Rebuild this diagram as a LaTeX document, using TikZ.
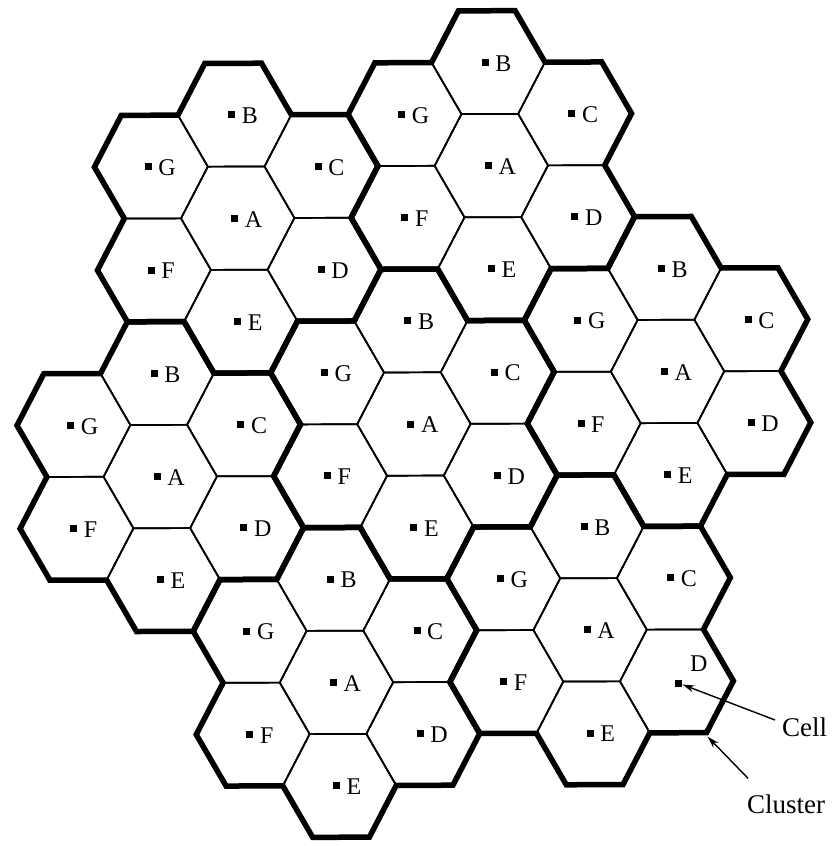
\documentclass[tikz,border=0pt]{standalone}
\usepackage{fontspec}
\setmainfont{Liberation Serif}
\usetikzlibrary{arrows.meta}
\tikzset{
  cellline/.style={line width=1.7pt, line join=miter},
  clusterline/.style={line width=5.5pt, line join=miter},
  cellmark/.style={fill=black, draw=none, inner sep=0pt, minimum size=7pt, rectangle},
  celllabel/.style={font=\fontsize{24}{28}\selectfont, inner sep=0pt, anchor=west},
  note/.style={font=\fontsize{27}{30}\selectfont, inner sep=0pt},
  pointer/.style={line width=1.4pt, -{Stealth[length=12pt,width=7pt]}}
}
\newcommand\clusteroutline[1]{%
  \draw[clusterline] (#1) ++(-1,1.7321)
    -- ++(60:1) -- ++(0:1) -- ++(-60:1)
    -- ++(0:1) -- ++(-60:1) -- ++(-120:1)
    -- ++(-60:1) -- ++(-120:1) -- ++(180:1)
    -- ++(-120:1) -- ++(180:1) -- ++(120:1)
    -- ++(180:1) -- ++(120:1) -- ++(60:1)
    -- ++(120:1) -- ++(60:1) -- cycle;}
\def\skipcell{7D}
\begin{document}
\begin{tikzpicture}[x=1pt,y=1pt]
\useasboundingbox (0,0) rectangle (835,-846);
\fill[white] (0,0) rectangle (835,-846);
\begin{scope}[shift={(413.9pt,-424pt)}, x={(56.7pt,0.21pt)}, y={(-1.76pt,59.6pt)}]
  \foreach \k/\cx/\cy in {1/-3/3.4641, 2/1.5/4.3301, 3/4.5/0.8660, 4/0/0, 5/-4.5/-0.8660, 6/-1.5/-4.3301, 7/3/-3.4641} {
    \coordinate (k\k) at (\cx,\cy);
    \foreach \l/\dx/\dy in {A/0/0, B/0/1.7321, C/1.5/0.8660, D/1.5/-0.8660, E/0/-1.7321, F/-1.5/-0.8660, G/-1.5/0.8660} {
      \coordinate (k\k\l) at ({\cx+\dx},{\cy+\dy});
      \draw[cellline] (k\k\l) ++(0:1) -- ++(120:1) -- ++(180:1) -- ++(240:1) -- ++(300:1) -- ++(0:1) -- cycle;
      \edef\thiscell{\k\l}
      \ifx\thiscell\skipcell\else
        \node[cellmark] (m\k\l) at ([xshift=-3pt]k\k\l) {};
        \node[celllabel] (t\k\l) at ([xshift=7pt,yshift=-1pt]k\k\l) {\l};
      \fi
    }
  }
  \foreach \k in {1,...,7} {\clusteroutline{k\k}}
  \coordinate (clvertex) at (5,-5.1962);
\end{scope}
\node[cellmark] (m7D) at ([xshift=2pt,yshift=-2pt]k7D) {};
\node[note, font=\fontsize{24}{28}\selectfont] (t7D) at ([xshift=20pt,yshift=19pt]m7D) {D};
\node[note, anchor=west] (celltext) at (782,-727) {Cell};
\node[note, anchor=west] (clustertext) at (747,-804) {Cluster};
\draw[pointer] ([xshift=-7pt,yshift=7pt]celltext.west) -- (m7D);
\draw[pointer] ([xshift=1pt,yshift=16pt]clustertext.north west) -- ([xshift=1pt,yshift=-4pt]clvertex);
\end{tikzpicture}
\end{document}
